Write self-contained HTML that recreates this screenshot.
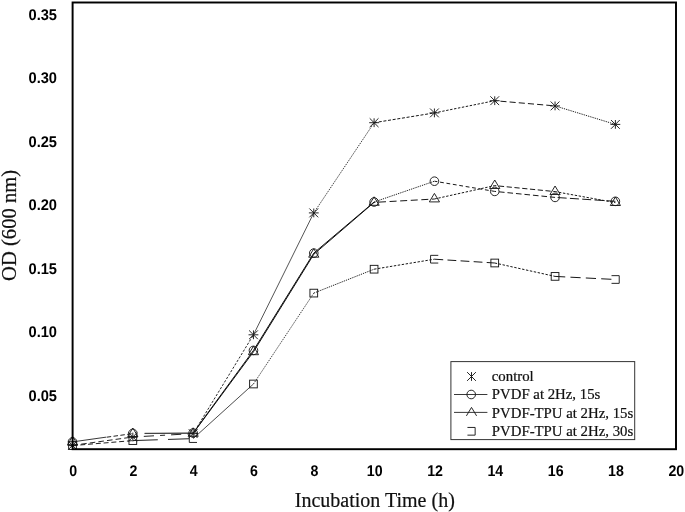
<!DOCTYPE html>
<html><head><meta charset="utf-8"><title>OD vs Incubation Time</title>
<style>
html,body{margin:0;padding:0;background:#fff;}
svg{display:block;filter:blur(0.35px);}
.m{fill:none;stroke:#1a1a1a;stroke-width:0.95;}
.tk{font-family:"Liberation Sans",sans-serif;font-weight:bold;font-size:15.5px;text-rendering:geometricPrecision;fill:#000;}
.lg{font-family:"Liberation Serif",serif;font-size:14.8px;fill:#111;stroke:#111;stroke-width:0.22px;}
.ax{font-family:"Liberation Serif",serif;font-size:20px;fill:#111;stroke:#111;stroke-width:0.2px;}
</style></head><body>
<svg width="685" height="512" viewBox="0 0 685 512">
<rect width="685" height="512" fill="#fff"/>
<g fill="none">
<line x1="72.5" y1="445.6" x2="132.82" y2="440.6" stroke="#222" stroke-width="1" stroke-dasharray="5 2.8"/>
<line x1="132.82" y1="440.6" x2="193.14" y2="438.6" stroke="#222" stroke-width="1" stroke-dasharray="25 10.2 21 10"/>
<line x1="193.14" y1="438.6" x2="253.46" y2="384.0" stroke="#2a2a2a" stroke-width="0.85"/>
<line x1="253.46" y1="384.0" x2="313.78" y2="293.1" stroke="#2a2a2a" stroke-width="0.9" stroke-dasharray="1.3 1.0"/>
<line x1="313.78" y1="293.1" x2="374.1" y2="269.2" stroke="#222" stroke-width="1" stroke-dasharray="1.3 1.0"/>
<line x1="374.1" y1="269.2" x2="434.42" y2="259.2" stroke="#0a0a0a" stroke-width="0.95" stroke-dasharray="2.4 1.6"/>
<line x1="434.42" y1="259.2" x2="494.74" y2="263.0" stroke="#0a0a0a" stroke-width="0.95" stroke-dasharray="8.8 4.3"/>
<line x1="494.74" y1="263.0" x2="555.06" y2="276.4" stroke="#0a0a0a" stroke-width="0.95" stroke-dasharray="2.4 1.6"/>
<line x1="555.06" y1="276.4" x2="615.38" y2="279.5" stroke="#0a0a0a" stroke-width="0.95" stroke-dasharray="10.2 5.2"/>
<line x1="72.5" y1="445.4" x2="132.82" y2="437.0" stroke="#222" stroke-width="1" stroke-dasharray="5.6 3.1"/>
<line x1="132.82" y1="437.0" x2="193.14" y2="433.6" stroke="#222" stroke-width="1" stroke-dasharray="5 6 10.2 6.1"/>
<line x1="193.14" y1="433.6" x2="253.46" y2="334.8" stroke="#1a1a1a" stroke-width="0.95" stroke-dasharray="2.4 1.6"/>
<line x1="253.46" y1="334.8" x2="313.78" y2="212.9" stroke="#2a2a2a" stroke-width="0.8"/>
<line x1="313.78" y1="212.9" x2="374.1" y2="122.7" stroke="#222" stroke-width="0.9" stroke-dasharray="1.3 1.0"/>
<line x1="374.1" y1="122.7" x2="434.42" y2="112.9" stroke="#0a0a0a" stroke-width="0.95" stroke-dasharray="3 1.7"/>
<line x1="434.42" y1="112.9" x2="494.74" y2="100.7" stroke="#0a0a0a" stroke-width="0.95" stroke-dasharray="2.4 1.6"/>
<line x1="494.74" y1="100.7" x2="555.06" y2="105.9" stroke="#0a0a0a" stroke-width="0.95" stroke-dasharray="6.1 3.1" stroke-dashoffset="3.5"/>
<line x1="555.06" y1="105.9" x2="615.38" y2="124.4" stroke="#222" stroke-width="1" stroke-dasharray="1.3 1.0"/>
<line x1="72.5" y1="441.9" x2="132.82" y2="433.4" stroke="#222" stroke-width="0.9" stroke-dasharray="34 100"/>
<line x1="132.82" y1="433.4" x2="193.14" y2="433.0" stroke="#222" stroke-width="0.9" stroke-dasharray="0 11.8 60"/>
<line x1="193.14" y1="433.0" x2="253.46" y2="350.4" stroke="#111" stroke-width="1.0"/>
<line x1="253.46" y1="350.4" x2="313.78" y2="253.1" stroke="#111" stroke-width="1.0"/>
<line x1="313.78" y1="253.1" x2="374.1" y2="202.0" stroke="#111" stroke-width="1.0"/>
<line x1="374.1" y1="202.0" x2="434.42" y2="181.2" stroke="#222" stroke-width="1" stroke-dasharray="1.3 1.0"/>
<line x1="434.42" y1="181.2" x2="494.74" y2="191.4" stroke="#0a0a0a" stroke-width="0.95" stroke-dasharray="3.8 2.7" stroke-dashoffset="0.8"/>
<line x1="494.74" y1="191.4" x2="555.06" y2="197.4" stroke="#0a0a0a" stroke-width="0.95" stroke-dasharray="5.6 2.94" stroke-dashoffset="4.3"/>
<line x1="555.06" y1="197.4" x2="615.38" y2="201.3" stroke="#0a0a0a" stroke-width="0.95" stroke-dasharray="9 3.3" stroke-dashoffset="9.7"/>
<line x1="72.5" y1="441.9" x2="132.82" y2="433.6" stroke="#222" stroke-width="1" stroke-dasharray="0 34.5 4.5 2.4 4.5 2.4 4.5 2.4 4.5 2.4 4.5 2.4"/>
<line x1="132.82" y1="433.6" x2="193.14" y2="433.4" stroke="#333" stroke-width="0.7" stroke-dasharray="0 11.8 60"/>
<line x1="193.14" y1="433.4" x2="253.46" y2="351.8" stroke="#111" stroke-width="1.0"/>
<line x1="253.46" y1="351.8" x2="313.78" y2="254.3" stroke="#111" stroke-width="1.0"/>
<line x1="313.78" y1="254.3" x2="374.1" y2="202.4" stroke="#111" stroke-width="1.0"/>
<line x1="374.1" y1="202.4" x2="434.42" y2="199.0" stroke="#0a0a0a" stroke-width="0.95" stroke-dasharray="7 3.6" stroke-dashoffset="5.7"/>
<line x1="434.42" y1="199.0" x2="494.74" y2="185.6" stroke="#0a0a0a" stroke-width="0.95" stroke-dasharray="2.4 1.6"/>
<line x1="494.74" y1="185.6" x2="555.06" y2="191.6" stroke="#0a0a0a" stroke-width="0.95" stroke-dasharray="5.2 2.6" stroke-dashoffset="3.6"/>
<line x1="555.06" y1="191.6" x2="615.38" y2="202.6" stroke="#0a0a0a" stroke-width="0.95" stroke-dasharray="2.4 1.6"/>
</g>
<rect x="68.65" y="441.75" width="7.7" height="7.7" class="m"/>
<path d="M68.10 441.00L76.90 449.80M68.10 449.80L76.90 441.00M72.50 441.00V449.80M67.60 445.40H77.40" class="m"/>
<circle cx="72.5" cy="441.9" r="4.3" class="m"/>
<path d="M72.50 436.30L77.60 444.80H67.40Z" class="m"/>
<rect x="128.97" y="436.75" width="7.7" height="7.7" class="m"/>
<path d="M128.42 432.60L137.22 441.40M128.42 441.40L137.22 432.60M132.82 432.60V441.40M127.92 437.00H137.72" class="m"/>
<circle cx="132.82" cy="433.4" r="4.3" class="m"/>
<path d="M132.82 428.00L137.92 436.50H127.72Z" class="m"/>
<path d="M189.29 434.75V442.45H196.99" class="m"/>
<path d="M188.74 429.20L197.54 438.00M188.74 438.00L197.54 429.20M193.14 429.20V438.00M188.24 433.60H198.04" class="m"/>
<circle cx="193.14" cy="433.0" r="4.3" class="m"/>
<path d="M193.14 427.80L198.24 436.30H188.04Z" class="m"/>
<rect x="249.61" y="380.15" width="7.7" height="7.7" class="m"/>
<path d="M249.06 330.40L257.86 339.20M249.06 339.20L257.86 330.40M253.46 330.40V339.20M248.56 334.80H258.36" class="m"/>
<circle cx="253.46" cy="350.4" r="4.3" class="m"/>
<path d="M253.46 346.20L258.56 354.70H248.36Z" class="m"/>
<rect x="309.93" y="289.25" width="7.7" height="7.7" class="m"/>
<path d="M309.38 208.50L318.18 217.30M309.38 217.30L318.18 208.50M313.78 208.50V217.30M308.88 212.90H318.68" class="m"/>
<circle cx="313.78" cy="253.1" r="4.3" class="m"/>
<path d="M313.78 248.70L318.88 257.20H308.68Z" class="m"/>
<rect x="370.25" y="265.35" width="7.7" height="7.7" class="m"/>
<path d="M369.70 118.30L378.50 127.10M369.70 127.10L378.50 118.30M374.10 118.30V127.10M369.20 122.70H379.00" class="m"/>
<circle cx="374.1" cy="202.0" r="4.3" class="m"/>
<path d="M374.10 196.80L379.20 205.30H369.00Z" class="m"/>
<path d="M438.27 255.35H430.57V263.05H438.27" class="m"/>
<path d="M430.02 108.50L438.82 117.30M430.02 117.30L438.82 108.50M434.42 108.50V117.30M429.52 112.90H439.32" class="m"/>
<circle cx="434.42" cy="181.2" r="4.3" class="m"/>
<path d="M434.42 193.40L439.52 201.90H429.32Z" class="m"/>
<rect x="490.89" y="259.15" width="7.7" height="7.7" class="m"/>
<path d="M490.34 96.30L499.14 105.10M490.34 105.10L499.14 96.30M494.74 96.30V105.10M489.84 100.70H499.64" class="m"/>
<circle cx="494.74" cy="191.4" r="4.3" class="m"/>
<path d="M494.74 180.00L499.84 188.50H489.64Z" class="m"/>
<rect x="551.21" y="272.55" width="7.7" height="7.7" class="m"/>
<path d="M550.66 101.50L559.46 110.30M550.66 110.30L559.46 101.50M555.06 101.50V110.30M550.16 105.90H559.96" class="m"/>
<circle cx="555.06" cy="197.4" r="4.3" class="m"/>
<path d="M555.06 186.00L560.16 194.50H549.96Z" class="m"/>
<path d="M611.53 275.65H619.23V283.35H611.53" class="m"/>
<path d="M610.98 120.00L619.78 128.80M610.98 128.80L619.78 120.00M615.38 120.00V128.80M610.48 124.40H620.28" class="m"/>
<circle cx="615.38" cy="201.3" r="4.3" class="m"/>
<path d="M615.38 197.00L620.48 205.50H610.28Z" class="m"/>
<rect x="450.9" y="361.6" width="183.8" height="78.0" fill="#fff" stroke="#333" stroke-width="1"/>
<line x1="454" y1="394.5" x2="487.4" y2="394.5" stroke="#222" stroke-width="0.9"/>
<line x1="454" y1="412.4" x2="487.4" y2="412.4" stroke="#222" stroke-width="0.9"/>
<path d="M467.10 372.10L475.90 380.90M467.10 380.90L475.90 372.10M471.50 372.10V380.90" class="m"/>
<circle cx="471.2" cy="394.5" r="4.3" class="m"/>
<path d="M466.40 415.90L471.50 407.40L476.60 415.90" class="m"/>
<path d="M467.45 427.45H475.15V435.15H467.45" class="m"/>
<text x="491.8" y="381.3" class="lg">control</text>
<text x="491.8" y="399.2" class="lg">PVDF at 2Hz, 15s</text>
<text x="491.8" y="417.5" class="lg">PVDF-TPU at 2Hz, 15s</text>
<text x="491.8" y="435.5" class="lg">PVDF-TPU at 2Hz, 30s</text>
<text transform="translate(73.10,476.1) scale(0.915,1)" class="tk" text-anchor="middle">0</text>
<text transform="translate(133.42,476.1) scale(0.915,1)" class="tk" text-anchor="middle">2</text>
<text transform="translate(193.74,476.1) scale(0.915,1)" class="tk" text-anchor="middle">4</text>
<text transform="translate(254.06,476.1) scale(0.915,1)" class="tk" text-anchor="middle">6</text>
<text transform="translate(314.38,476.1) scale(0.915,1)" class="tk" text-anchor="middle">8</text>
<text transform="translate(374.70,476.1) scale(0.915,1)" class="tk" text-anchor="middle">10</text>
<text transform="translate(435.02,476.1) scale(0.915,1)" class="tk" text-anchor="middle">12</text>
<text transform="translate(495.34,476.1) scale(0.915,1)" class="tk" text-anchor="middle">14</text>
<text transform="translate(555.66,476.1) scale(0.915,1)" class="tk" text-anchor="middle">16</text>
<text transform="translate(615.98,476.1) scale(0.915,1)" class="tk" text-anchor="middle">18</text>
<text transform="translate(676.30,476.1) scale(0.915,1)" class="tk" text-anchor="middle">20</text>
<text transform="translate(57.0,400.80) scale(0.945,1)" class="tk" text-anchor="end">0.05</text>
<text transform="translate(57.0,337.27) scale(0.945,1)" class="tk" text-anchor="end">0.10</text>
<text transform="translate(57.0,273.74) scale(0.945,1)" class="tk" text-anchor="end">0.15</text>
<text transform="translate(57.0,210.21) scale(0.945,1)" class="tk" text-anchor="end">0.20</text>
<text transform="translate(57.0,146.68) scale(0.945,1)" class="tk" text-anchor="end">0.25</text>
<text transform="translate(57.0,83.15) scale(0.945,1)" class="tk" text-anchor="end">0.30</text>
<text transform="translate(57.0,19.62) scale(0.945,1)" class="tk" text-anchor="end">0.35</text>
<text x="374.8" y="507" class="ax" text-anchor="middle">Incubation Time (h)</text>
<text transform="translate(16.1,225.4) rotate(-90) scale(1.03,1)" class="ax" text-anchor="middle">OD (600 nm)</text>
<rect x="72.6" y="2.5" width="603.4" height="446.7" fill="none" stroke="#000" stroke-width="1.95"/>
</svg>
</body></html>
